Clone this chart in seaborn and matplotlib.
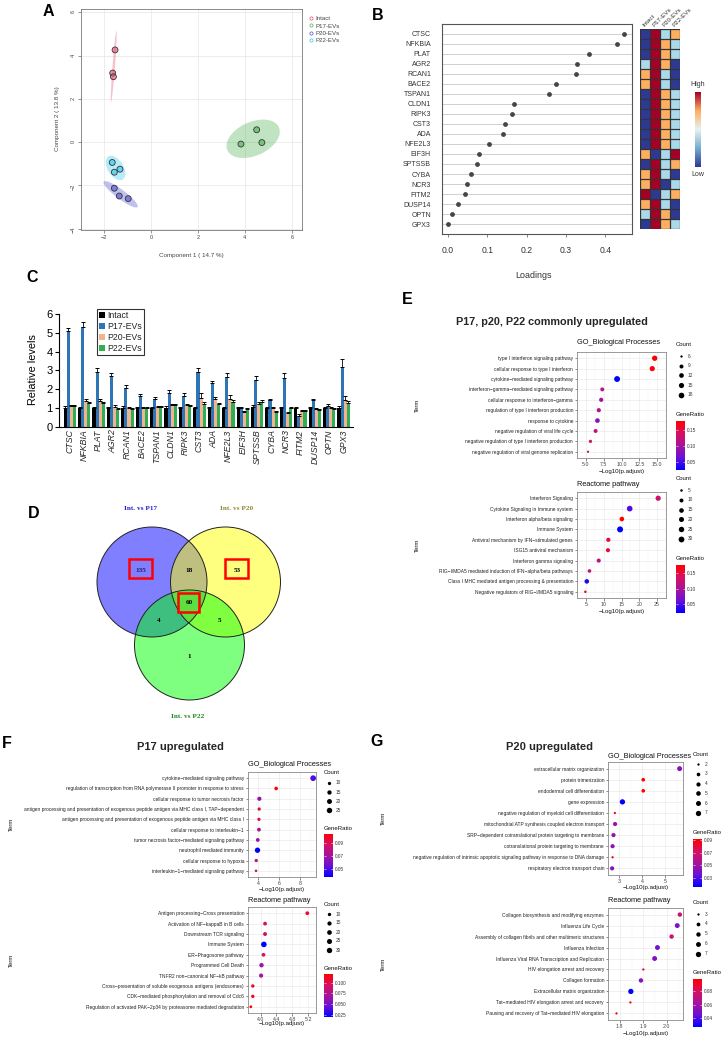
import numpy as np
import pandas as pd
import matplotlib
matplotlib.use("Agg")
import matplotlib.pyplot as plt
import seaborn as sns
from matplotlib.patches import Ellipse, Circle, Rectangle, Patch
from matplotlib.colors import LinearSegmentedColormap, ListedColormap
from matplotlib.lines import Line2D

# ---------------- DATA ----------------
# Panel A: PCA scores
pca_group = ["Intact"] * 3 + ["P17-EVs"] * 3 + ["P20-EVs"] * 3 + ["P22-EVs"] * 3
pca_comp1 = [-1.53, -1.63, -1.60, 3.83, 4.50, 4.72, -1.56, -1.35, -0.97, -1.65, -1.56, -1.32]
pca_comp2 = [4.26, 3.19, 3.02, -0.09, 0.57, -0.02, -2.13, -2.49, -2.61, -0.94, -1.39, -1.25]
pca_levels = ["Intact", "P17-EVs", "P20-EVs", "P22-EVs"]

# Panel B: loadings + rank heatmap (1 = low ... 4 = high)
b_genes = ["CTSC", "NFKBIA", "PLAT", "AGR2", "RCAN1", "BACE2", "TSPAN1", "CLDN1", "RIPK3", "CST3",
           "ADA", "NFE2L3", "EIF3H", "SPTSSB", "CYBA", "NCR3", "FITM2", "DUSP14", "OPTN", "GPX3"]
b_loadings = [0.447, 0.431, 0.358, 0.328, 0.326, 0.275, 0.258, 0.169, 0.163, 0.144,
              0.140, 0.103, 0.079, 0.074, 0.058, 0.048, 0.043, 0.026, 0.009, 0.001]
b_rank_intact = [1, 1, 1, 2, 3, 3, 1, 1, 1, 1, 1, 1, 3, 1, 3, 3, 4, 3, 2, 1]
b_rank_p17 = [4, 4, 4, 4, 4, 4, 4, 4, 4, 4, 4, 4, 1, 4, 4, 4, 1, 4, 4, 4]
b_rank_p20 = [2, 3, 3, 3, 2, 2, 3, 3, 3, 3, 3, 3, 2, 2, 2, 1, 2, 2, 3, 3]
b_rank_p22 = [3, 2, 2, 1, 1, 1, 2, 2, 2, 2, 2, 2, 4, 3, 1, 2, 3, 1, 1, 2]

# Panel C: relative levels (qPCR)
c_genes = b_genes
c_intact = [1.0, 1.0, 1.0, 1.0, 1.0, 1.0, 1.0, 1.0, 1.0, 1.0, 1.0, 1.0, 1.0, 1.05, 1.0, 1.0, 1.0, 1.0, 1.0, 1.0]
c_intact_err = [0.08, 0.05, 0.05, 0.03, 0.08, 0.03, 0.03, 0.1, 0.05, 0.05, 0.05, 0.06, 0.05, 0.12, 0.06, 0.07, 0.04, 0.05, 0.05, 0.12]
c_p17 = [5.1, 5.3, 2.9, 2.7, 2.05, 1.65, 1.5, 1.8, 1.65, 2.9, 2.3, 2.65, 1.0, 2.5, 1.4, 2.6, 0.55, 1.4, 1.1, 3.2]
c_p17_err = [0.15, 0.3, 0.2, 0.15, 0.15, 0.1, 0.1, 0.15, 0.15, 0.25, 0.15, 0.2, 0.03, 0.2, 0.1, 0.25, 0.1, 0.1, 0.1, 0.4]
c_p20 = [1.1, 1.35, 1.35, 1.05, 1.0, 1.0, 1.05, 1.15, 1.15, 1.55, 1.45, 1.5, 0.8, 1.2, 1.0, 0.75, 0.85, 0.95, 1.0, 1.4]
c_p20_err = [0.05, 0.1, 0.1, 0.1, 0.03, 0.03, 0.03, 0.05, 0.05, 0.25, 0.15, 0.2, 0.05, 0.1, 0.05, 0.05, 0.05, 0.05, 0.05, 0.25]
c_p22 = [1.1, 1.25, 1.25, 0.95, 0.95, 1.0, 1.05, 1.15, 1.1, 1.2, 1.2, 1.3, 0.95, 1.3, 0.8, 1.0, 0.85, 0.9, 0.95, 1.25]
c_p22_err = [0.03, 0.05, 0.05, 0.05, 0.03, 0.03, 0.03, 0.05, 0.05, 0.1, 0.05, 0.1, 0.05, 0.1, 0.03, 0.03, 0.05, 0.05, 0.03, 0.1]

# Panel D: Venn counts
venn_sets = ["Int. vs P17", "Int. vs P20", "Int. vs P22"]
venn_only17, venn_only20, venn_only22 = 135, 53, 1
venn_17_20, venn_17_22, venn_20_22, venn_all = 18, 4, 5, 60

# Panel E
e_go_terms = ["type I interferon signaling pathway", "cellular response to type I interferon",
              "cytokine\u2212mediated signaling pathway", "interferon\u2212gamma\u2212mediated signaling pathway",
              "cellular response to interferon\u2212gamma", "regulation of type I interferon production",
              "response to cytokine", "negative regulation of viral life cycle",
              "negative regulation of type I interferon production", "negative regulation of viral genome replication"]
e_go_logp = [14.66, 14.32, 9.38, 7.30, 7.15, 6.81, 6.62, 6.36, 5.64, 5.30]
e_go_count = [16, 15, 20, 9, 10, 10, 12, 9, 7, 6]
e_go_ratio = [0.18, 0.175, 0.024, 0.11, 0.10, 0.115, 0.08, 0.12, 0.135, 0.13]

e_re_terms = ["Interferon Signaling", "Cytokine Signaling in Immune system", "Interferon alpha/beta signaling",
              "Immune System", "Antiviral mechanism by IFN\u2212stimulated genes", "ISG15 antiviral mechanism",
              "Interferon gamma signaling", "RIG\u2212I/MDA5 mediated induction of IFN\u2212alpha/beta pathways",
              "Class I MHC mediated antigen processing & presentation", "Negative regulators of RIG\u2212I/MDA5 signaling"]
e_re_logp = [25.3, 17.3, 15.1, 14.6, 11.3, 11.2, 8.6, 6.0, 5.25, 4.85]
e_re_count = [22, 28, 15, 33, 12, 11, 11, 8, 15, 5]
e_re_ratio = [0.13, 0.05, 0.176, 0.021, 0.15, 0.15, 0.11, 0.12, 0.035, 0.16]

# Panel F
f_go_terms = ["cytokine\u2212mediated signaling pathway",
              "regulation of transcription from RNA polymerase II promoter in response to stress",
              "cellular response to tumor necrosis factor",
              "antigen processing and presentation of exogenous peptide antigen via MHC class I, TAP\u2212dependent",
              "antigen processing and presentation of exogenous peptide antigen via MHC class I",
              "cellular response to interleukin\u22121", "tumor necrosis factor\u2212mediated signaling pathway",
              "neutrophil mediated immunity", "cellular response to hypoxia",
              "interleukin\u22121\u2212mediated signaling pathway"]
f_go_logp = [9.25, 5.70, 4.09, 4.07, 4.05, 4.05, 3.94, 3.91, 3.79, 3.77]
f_go_count = [28, 11, 14, 10, 10, 12, 12, 24, 10, 9]
f_go_ratio = [0.05, 0.104, 0.066, 0.09, 0.09, 0.072, 0.068, 0.038, 0.078, 0.085]

f_re_terms = ["Antigen processing\u2212Cross presentation", "Activation of NF\u2212kappaB in B cells",
              "Downstream TCR signaling", "Immune System", "ER\u2212Phagosome pathway", "Programmed Cell Death",
              "TNFR2 non\u2212canonical NF\u2212kB pathway",
              "Cross\u2212presentation of soluble exogenous antigens (endosomes)",
              "CDK\u2212mediated phosphorylation and removal of Cdc6",
              "Regulation of activated PAK\u22122p34 by proteasome mediated degradation"]
f_re_logp = [5.18, 4.11, 4.11, 4.08, 4.07, 4.02, 4.01, 3.80, 3.80, 3.75]
f_re_count = [12, 12, 13, 33, 12, 17, 15, 10, 10, 9]
f_re_ratio = [0.105, 0.095, 0.09, 0.02, 0.095, 0.065, 0.07, 0.11, 0.11, 0.12]

# Panel G
g_go_terms = ["extracellular matrix organization", "protein trimerization", "endodermal cell differentiation",
              "gene expression", "negative regulation of myeloid cell differentiation",
              "mitochondrial ATP synthesis coupled electron transport",
              "SRP\u2212dependent cotranslational protein targeting to membrane",
              "cotranslational protein targeting to membrane",
              "negative regulation of intrinsic apoptotic signaling pathway in response to DNA damage",
              "respiratory electron transport chain"]
g_go_logp = [5.63, 4.04, 4.04, 3.13, 2.80, 2.81, 2.74, 2.70, 2.70, 2.68]
g_go_count = [6, 3, 3, 7, 2, 4, 4, 4, 2, 4]
g_go_ratio = [0.045, 0.0916, 0.0916, 0.016, 0.08, 0.05, 0.048, 0.046, 0.088, 0.045]

g_re_terms = ["Collagen biosynthesis and modifying enzymes", "Influenza Life Cycle",
              "Assembly of collagen fibrils and other multimeric structures", "Influenza Infection",
              "Influenza Viral RNA Transcription and Replication", "HIV elongation arrest and recovery",
              "Collagen formation", "Extracellular matrix organization",
              "Tat\u2212mediated HIV elongation arrest and recovery",
              "Pausing and recovery of Tat\u2212mediated HIV elongation"]
g_re_logp = [2.055, 2.044, 2.02, 1.96, 1.948, 1.90, 1.89, 1.847, 1.845, 1.786]
g_re_count = [5, 6, 5, 6, 6, 3, 5, 7, 3, 3]
g_re_ratio = [0.075, 0.05, 0.075, 0.048, 0.05, 0.09, 0.055, 0.027, 0.09, 0.098]

# ---------------- SETUP ----------------
sns.set_theme(style="white")
plt.rcParams["font.family"] = ["Liberation Sans", "DejaVu Sans"]

W, H = 724, 1039
fig = plt.figure(figsize=(W / 100, H / 100), dpi=100)
fig.patch.set_facecolor("white")


def px_axes(l, t, r, b, **kw):
    return fig.add_axes([l / W, 1 - b / H, (r - l) / W, (b - t) / H], **kw)


ov = fig.add_axes([0, 0, 1, 1], zorder=20)
ov.set_xlim(0, W)
ov.set_ylim(H, 0)
ov.axis("off")
ov.patch.set_alpha(0)


def T(x, y, s, **kw):
    kw.setdefault("ha", "center")
    kw.setdefault("va", "center")
    ov.text(x, y, s, **kw)


for lab, (x, y) in {"A": (48, 12), "B": (378, 16), "C": (32, 278), "D": (34, 513),
                    "E": (407, 300), "F": (7, 743), "G": (377, 742)}.items():
    T(x, y, lab, fontsize=11.5, fontweight="bold", color="black")

# ---------------- PANEL A ----------------
pca_colors = {"Intact": "#E0506A", "P17-EVs": "#4CAF50", "P20-EVs": "#4F4FD0", "P22-EVs": "#2EC6EA"}
axA = px_axes(81, 9, 302, 230)
dfA = pd.DataFrame({"c1": pca_comp1, "c2": pca_comp2, "g": pca_group})
for g in pca_levels:
    sub = dfA[dfA.g == g]
    x = sub.c1.values
    y = sub.c2.values
    cov = np.cov(x, y)
    vals, vecs = np.linalg.eigh(cov)
    order = vals.argsort()[::-1]
    vals = vals[order]
    vecs = vecs[:, order]
    ang = np.degrees(np.arctan2(vecs[1, 0], vecs[0, 0]))
    tq = np.sqrt(5.991)
    axA.add_patch(Ellipse((x.mean(), y.mean()), 2 * tq * np.sqrt(max(vals[0], 1e-9)),
                          2 * tq * np.sqrt(max(vals[1], 1e-9)), angle=ang,
                          facecolor=pca_colors[g], alpha=0.35, lw=0, zorder=2))
sns.scatterplot(data=dfA, x="c1", y="c2", hue="g", palette=pca_colors, s=18, edgecolor="#333333",
                linewidth=0.6, legend=False, ax=axA, zorder=3)
coll = axA.collections[-1]
fc = coll.get_facecolors()
fc[:, 3] = 0.6
coll.set_facecolors(fc)
coll.set_edgecolor("#333333")
axA.set_xlim(-2.98, 6.43)
axA.set_ylim(-4.06, 6.15)
axA.set_xticks([-2, 0, 2, 4, 6])
axA.set_yticks([-4, -2, 0, 2, 4, 6])
axA.grid(True, color="#e6e6e6", lw=0.5)
axA.set_axisbelow(True)
for sp in axA.spines.values():
    sp.set_color("#777777")
    sp.set_linewidth(0.6)
axA.tick_params(labelsize=4, colors="#444444", length=2, width=0.4, pad=1.5, left=True, bottom=True)
axA.tick_params(axis="y", labelrotation=90)
axA.set_xlabel("")
axA.set_ylabel("")
T(191, 256, "Component 1 ( 14.7 %)", fontsize=4.5, color="#444444")
T(57, 119, "Component 2 ( 13.8 %)", fontsize=4.5, color="#444444", rotation=90)
handlesA = [Line2D([0], [0], marker="o", lw=0, markerfacecolor="none", markeredgecolor=pca_colors[g],
                   markersize=2.3, markeredgewidth=0.5) for g in pca_levels]
legA = axA.legend(handlesA, pca_levels, loc="upper left", bbox_to_anchor=(309 / W, 1 - 16 / H),
                  bbox_transform=fig.transFigure, fontsize=4.4, frameon=False, handletextpad=0.3,
                  labelspacing=0.32, borderaxespad=0, borderpad=0, handlelength=0.8)
for t in legA.get_texts():
    t.set_color("#444444")

# ---------------- PANEL B ----------------
axB = px_axes(442, 24, 632, 234)
yB = np.arange(len(b_genes))
axB.hlines(yB, -0.1, 0.6, color="#d0d0d0", lw=0.7, zorder=0)
sns.scatterplot(x=b_loadings, y=yB, color="#454545", s=12, linewidth=0, ax=axB, zorder=3)
axB.set_xlim(-0.0153, 0.468)
axB.set_ylim(20, -1)
axB.set_yticks(yB)
axB.set_yticklabels(b_genes, fontsize=5, color="#333333")
axB.set_xticks([0, 0.1, 0.2, 0.3, 0.4])
axB.set_xticklabels(["0.0", "0.1", "0.2", "0.3", "0.4"], fontsize=6.2, color="#333333")
axB.tick_params(axis="y", length=0, pad=8)
axB.tick_params(axis="x", length=2.5, width=0.5, color="#555555", pad=6, bottom=True)
for sp in axB.spines.values():
    sp.set_color("#555555")
    sp.set_linewidth(0.8)
T(533, 275, "Loadings", fontsize=6.4, color="#333333")

rank_cols = ["#2E3A92", "#ABD9E9", "#FDAE61", "#A50026"]
axH = px_axes(640, 29.3, 680, 229.3)
hm = pd.DataFrame({"Intact": b_rank_intact, "P17-EVs": b_rank_p17, "P20-EVs": b_rank_p20,
                   "P22-EVs": b_rank_p22}, index=b_genes)
sns.heatmap(hm, cmap=ListedColormap(rank_cols), vmin=0.5, vmax=4.5, cbar=False, linewidths=0,
            ax=axH, xticklabels=True, yticklabels=False)
axH.hlines(np.arange(len(b_genes) + 1), 0, 4, color="#333333", lw=0.9, zorder=5)
axH.vlines(np.arange(5), 0, len(b_genes), color="#333333", lw=0.9, zorder=5)
axH.set_ylabel("")
axH.xaxis.tick_top()
axH.set_xticks(np.arange(4) + 0.5)
axH.set_xticklabels(list(hm.columns), rotation=45, ha="left", va="bottom", rotation_mode="anchor",
                    fontsize=4.5, color="#333333")
axH.tick_params(axis="x", length=0, pad=1)

gcmap = LinearSegmentedColormap.from_list("hl", ["#2E3A92", "#74ADD1", "#E6F3F0", "#FDAE61", "#A50026"])
axHc = px_axes(695, 92, 701, 167)
axHc.imshow(np.linspace(0, 1, 256).reshape(-1, 1), aspect="auto", cmap=gcmap, origin="lower")
axHc.set_xticks([])
axHc.set_yticks([])
for sp in axHc.spines.values():
    sp.set_visible(False)
T(698, 85, "High", fontsize=5, color="#333333")
T(698, 174, "Low", fontsize=5, color="#333333")

# ---------------- PANEL C ----------------
c_levels = ["Intact", "P17-EVs", "P20-EVs", "P22-EVs"]
c_colors = {"Intact": "#000000", "P17-EVs": "#2E75B6", "P20-EVs": "#F2B48E", "P22-EVs": "#2FAE55"}
dfC = pd.DataFrame({
    "gene": c_genes * 4,
    "group": sum([[g] * len(c_genes) for g in c_levels], []),
    "value": c_intact + c_p17 + c_p20 + c_p22,
    "err": c_intact_err + c_p17_err + c_p20_err + c_p22_err,
})
axC = px_axes(59, 314, 353, 426.7)
sns.barplot(data=dfC, x="gene", y="value", hue="group", hue_order=c_levels, palette=c_colors,
            errorbar=None, width=0.86, saturation=1, legend=False, ax=axC, linewidth=0)
for cont, g in zip(axC.containers, c_levels):
    sub = dfC[dfC.group == g]
    xs = [bar.get_x() + bar.get_width() / 2 for bar in cont]
    hs = [bar.get_height() for bar in cont]
    axC.errorbar(xs, hs, yerr=[np.zeros(len(xs)), sub.err.values], fmt="none", ecolor="black",
                 elinewidth=0.6, capsize=1.6, capthick=0.7, zorder=4)
axC.set_xlim(-0.75, 19.65)
axC.set_ylim(0, 6)
axC.set_yticks(range(7))
axC.tick_params(axis="y", labelsize=8, length=3, width=0.8, pad=1.5, left=True, colors="black")
axC.tick_params(axis="x", length=0, pad=2)
axC.set_xticks(range(len(c_genes)))
axC.set_xticklabels(c_genes, rotation=90, fontsize=6.3, style="italic", va="top", ha="center")
for s in ["top", "right"]:
    axC.spines[s].set_visible(False)
for s in ["left", "bottom"]:
    axC.spines[s].set_color("black")
    axC.spines[s].set_linewidth(0.8)
axC.set_xlabel("")
axC.set_ylabel("")
T(33, 370, "Relative levels", fontsize=7.8, rotation=90, color="black")
handlesC = [Patch(facecolor=c_colors[g], edgecolor="none") for g in c_levels]
legC = axC.legend(handlesC, c_levels, loc="upper left", bbox_to_anchor=(97 / W, 1 - 309 / H),
                  bbox_transform=fig.transFigure, fontsize=6.3, frameon=True, fancybox=False,
                  edgecolor="black", borderpad=0.25, labelspacing=0.22, handlelength=0.7,
                  handleheight=0.7, handletextpad=0.25, borderaxespad=0)
legC.get_frame().set_linewidth(0.8)

# ---------------- PANEL D (Venn) ----------------
circ = [((152, 582, 55), "#0000FF"), ((225.5, 582, 55), "#FFFF00"), ((189.5, 645, 55), "#00FF00")]
for (cx, cy, r), col in circ:
    ov.add_patch(Circle((cx, cy), r, facecolor=col, alpha=0.5, lw=0, zorder=1))
for (cx, cy, r), col in circ:
    ov.add_patch(Circle((cx, cy), r, facecolor="none", edgecolor="#222222", lw=0.7, zorder=2))
vf = dict(fontsize=5.2, fontweight="bold", family=["Liberation Serif", "DejaVu Serif"], zorder=5)
T(140, 509, venn_sets[0], color="#2323D8", **vf)
T(237, 509, venn_sets[1], color="#8E8A30", **vf)
T(188, 717, venn_sets[2], color="#1E8C1E", **vf)
T(141, 570, str(venn_only17), color="#1c1c70", **vf)
T(189, 570, str(venn_17_20), color="black", **vf)
T(237, 570, str(venn_only20), color="black", **vf)
T(189, 603, str(venn_all), color="black", **vf)
T(159, 620, str(venn_17_22), color="black", **vf)
T(219, 620, str(venn_20_22), color="black", **vf)
T(189, 657, str(venn_only22), color="black", **vf)
for (x0, y0, x1, y1) in [(129, 559, 152, 578), (225, 559, 248, 578), (178, 593, 199, 612)]:
    ov.add_patch(Rectangle((x0, y0), x1 - x0, y1 - y0, facecolor="none", edgecolor="#FF0000",
                           lw=1.8, zorder=4))

# ---------------- DOT PLOTS (E, F, G) ----------------
grad_cmap = LinearSegmentedColormap.from_list("br", ["#0000FF", "#6A10D8", "#A8149A", "#D81060", "#FF0000"])


def dot_size(c, cmin, cmax, dmin, dmax):
    r = (np.asarray(c, float) - cmin) / (cmax - cmin)
    d = dmin + (dmax - dmin) * np.sqrt(np.clip(r, 0, None))
    return (d * 0.72) ** 2


def dotplot(rect, terms, pv, cnt, ratio, subtitle, lay):
    l, t, r, b = rect
    ax = px_axes(l, t, r, b)
    n = len(terms)
    y = np.arange(n)
    cmin, cmax = min(cnt), max(cnt)
    s = dot_size(cnt, cmin, cmax, lay["dmin"], lay["dmax"])
    vmin, vmax = min(ratio), max(ratio)
    sns.scatterplot(x=pv, y=y, hue=ratio, palette=grad_cmap, hue_norm=(vmin, vmax), size=s,
                    sizes=(0, 100), size_norm=(0, 100), linewidth=0, legend=False, ax=ax, zorder=3)
    lo, hi = min(pv), max(pv)
    pad = (hi - lo) * 0.05
    ax.set_xlim(lo - pad, hi + pad)
    ax.set_ylim(n - 1 + 0.6, -0.6)
    ax.set_yticks(y)
    ax.set_yticklabels(terms, fontsize=3.5, color="#222222")
    xt = lay["xticks"]
    ax.set_xticks(xt)
    ax.set_xticklabels(lay["xlabels"], fontsize=3.8, color="#444444")
    step = xt[1] - xt[0]
    minor = [xt[0] - step / 2] + [v + step / 2 for v in xt]
    ax.set_xticks(minor, minor=True)
    ax.tick_params(axis="x", which="minor", length=0)
    ax.grid(True, which="major", color="#ebebeb", lw=0.5)
    ax.grid(True, which="minor", axis="x", color="#f2f2f2", lw=0.3)
    ax.set_axisbelow(True)
    for sp in ax.spines.values():
        sp.set_color("#8a8a8a")
        sp.set_linewidth(0.6)
    ax.tick_params(which="major", length=1.8, width=0.4, color="#333333", pad=1, left=True, bottom=True)
    ax.set_xlabel("")
    ax.set_ylabel("")
    T((l + r) / 2, lay["xlab_y"], "\u2212Log10(p.adjust)", fontsize=4.4, color="#111111")
    ov.text(l, lay["sub_y"], subtitle, fontsize=5.3, ha="left", va="center", color="#111111")
    T(lay["term_x"], (t + b) / 2, "Term", fontsize=4.3, rotation=90, color="#111111")
    cx = lay["leg_x"]
    ov.text(cx, lay["count_y"], "Count", fontsize=4.3, ha="left", va="center", color="#111111")
    for i, bk in enumerate(lay["breaks"]):
        yy = lay["count_y0"] + i * lay["count_dy"]
        ov.scatter([cx + 5], [yy], s=dot_size(bk, cmin, cmax, lay["dmin"], lay["dmax"]),
                   color="black", lw=0, zorder=6)
        ov.text(cx + 12, yy, str(bk), fontsize=3.4, ha="left", va="center", color="#333333")
    ov.text(cx, lay["gr_y"], "GeneRatio", fontsize=4.3, ha="left", va="center", color="#111111")
    cb = px_axes(cx, lay["cb"][0], cx + 9, lay["cb"][1])
    grad = np.linspace(vmin, vmax, 256).reshape(-1, 1)
    cb.imshow(grad, aspect="auto", cmap=grad_cmap, origin="lower", extent=(0, 1, vmin, vmax))
    cb.set_xlim(0, 1)
    cb.set_ylim(vmin, vmax)
    cb.set_xticks([])
    cb.yaxis.tick_right()
    cb.set_yticks(lay["cticks"])
    cb.set_yticklabels(lay["clabels"], fontsize=3.4, color="#333333")
    cb.tick_params(axis="y", length=0, pad=1.5)
    cb.hlines(lay["cticks"], 0, 0.2, color="white", lw=0.4)
    cb.hlines(lay["cticks"], 0.8, 1, color="white", lw=0.4)
    for sp in cb.spines.values():
        sp.set_visible(False)
    return ax


T(552, 322, "P17, p20, P22 commonly upregulated", fontsize=7.8, fontweight="bold")
T(180, 747, "P17 upregulated", fontsize=8.0, fontweight="bold")
T(550, 747, "P20 upregulated", fontsize=8.0, fontweight="bold")

dotplot((577, 352, 666, 458), e_go_terms, e_go_logp, e_go_count, e_go_ratio, "GO_Biological Processes",
        dict(dmin=2.3, dmax=5.9, xticks=[5, 7.5, 10, 12.5, 15], xlabels=["5.0", "7.5", "10.0", "12.5", "15.0"],
             xlab_y=472, sub_y=343, term_x=417, leg_x=676, count_y=344, count_y0=356, count_dy=9.7,
             breaks=[6, 9, 12, 15, 18], gr_y=415, cb=(421, 470), cticks=[0.05, 0.10, 0.15],
             clabels=["0.05", "0.10", "0.15"]))
dotplot((577, 492, 666, 598), e_re_terms, e_re_logp, e_re_count, e_re_ratio, "Reactome pathway",
        dict(dmin=2.5, dmax=6.0, xticks=[5, 10, 15, 20, 25], xlabels=["5", "10", "15", "20", "25"],
             xlab_y=611, sub_y=484, term_x=417, leg_x=676, count_y=479, count_y0=490, count_dy=9.8,
             breaks=[5, 10, 15, 20, 25, 30], gr_y=559, cb=(565, 613), cticks=[0.05, 0.10, 0.15],
             clabels=["0.05", "0.10", "0.15"]))
dotplot((248, 772, 316, 877), f_go_terms, f_go_logp, f_go_count, f_go_ratio, "GO_Biological Processes",
        dict(dmin=2.6, dmax=5.7, xticks=[4, 6, 8], xlabels=["4", "6", "8"],
             xlab_y=889, sub_y=764, term_x=11, leg_x=324, count_y=773, count_y0=783, count_dy=9.1,
             breaks=[10, 15, 20, 25], gr_y=828, cb=(834, 877), cticks=[0.05, 0.07, 0.09],
             clabels=["0.05", "0.07", "0.09"]))
dotplot((248, 907, 316, 1013), f_re_terms, f_re_logp, f_re_count, f_re_ratio, "Reactome pathway",
        dict(dmin=2.8, dmax=5.6, xticks=[4.0, 4.4, 4.8, 5.2], xlabels=["4.0", "4.4", "4.8", "5.2"],
             xlab_y=1024, sub_y=900, term_x=11, leg_x=324, count_y=904, count_y0=914, count_dy=9.0,
             breaks=[10, 15, 20, 25, 30], gr_y=968, cb=(974, 1017), cticks=[0.025, 0.05, 0.075, 0.10],
             clabels=["0.025", "0.050", "0.075", "0.100"]))
dotplot((608, 762, 683, 875), g_go_terms, g_go_logp, g_go_count, g_go_ratio, "GO_Biological Processes",
        dict(dmin=2.3, dmax=5.3, xticks=[3, 4, 5], xlabels=["3", "4", "5"],
             xlab_y=888, sub_y=756, term_x=383, leg_x=693, count_y=754, count_y0=764, count_dy=9.8,
             breaks=[2, 3, 4, 5, 6, 7], gr_y=833, cb=(839, 887), cticks=[0.03, 0.05, 0.07, 0.09],
             clabels=["0.03", "0.05", "0.07", "0.09"]))
dotplot((608, 908, 683, 1020), g_re_terms, g_re_logp, g_re_count, g_re_ratio, "Reactome pathway",
        dict(dmin=2.3, dmax=5.3, xticks=[1.8, 1.9, 2.0], xlabels=["1.8", "1.9", "2.0"],
             xlab_y=1033, sub_y=901, term_x=383, leg_x=693, count_y=903, count_y0=914, count_dy=9.9,
             breaks=[3, 4, 5, 6, 7], gr_y=973, cb=(979, 1027), cticks=[0.04, 0.06, 0.08],
             clabels=["0.04", "0.06", "0.08"]))

fig.savefig("out.png", dpi=100, facecolor="white")
